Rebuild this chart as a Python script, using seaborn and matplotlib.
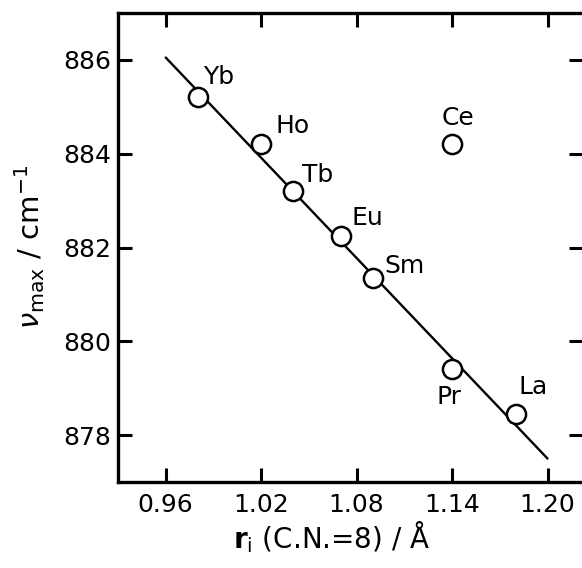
import matplotlib
matplotlib.use("Agg")
import matplotlib.pyplot as plt
import seaborn as sns
import pandas as pd

# data
elements = ["Yb", "Ho", "Tb", "Eu", "Sm", "Ce", "Pr", "La"]
radius = [0.98, 1.02, 1.04, 1.07, 1.09, 1.14, 1.14, 1.18]
nu_max = [885.2, 884.2, 883.2, 882.25, 881.35, 884.2, 879.4, 878.45]
fit_x = [0.96, 1.20]
fit_y = [886.05, 877.5]
xticks = [0.96, 1.02, 1.08, 1.14, 1.20]
xticklabels = ["0.96", "1.02", "1.08", "1.14", "1.20"]
yticks = [878, 880, 882, 884, 886]
yticklabels = ["878", "880", "882", "884", "886"]

# label offsets (pixels) and alignment
label_off = {"Yb": (6, 20, "left"), "Ho": (14, 18, "left"), "Tb": (9, 16, "left"),
             "Eu": (11, 18, "left"), "Sm": (12, 12, "left"), "Ce": (6, 26, "center"),
             "Pr": (-3, -28, "center"), "La": (3, 27, "left")}

sns.set_style("ticks")
plt.rcParams["font.family"] = ["DejaVu Sans"]
plt.rcParams["mathtext.fontset"] = "dejavusans"
plt.rcParams["text.color"] = "black"
plt.rcParams["axes.labelcolor"] = "black"

df = pd.DataFrame({"element": elements, "r": radius, "nu": nu_max})
fit = pd.DataFrame({"r": fit_x, "nu": fit_y})

fig = plt.figure(figsize=(5.82, 5.68), dpi=100)
ax = fig.add_axes([118/582, 1 - 482/568, (583 - 118)/582, (482 - 13)/568])

sns.lineplot(data=fit, x="r", y="nu", ax=ax, color="black", linewidth=1.7)
sns.scatterplot(data=df, x="r", y="nu", ax=ax, marker="o", s=190,
                facecolor="white", edgecolor="black", linewidth=1.8, zorder=3)

for e, x, y in zip(elements, radius, nu_max):
    dx, dy, ha = label_off[e]
    ax.annotate(e, (x, y), xytext=(dx, dy), textcoords="offset pixels",
                ha=ha, va="center", fontsize=18, color="black")

ax.set_xlim(0.930, 1.2223)
ax.set_ylim(877.0, 887.0)
ax.set_xticks(xticks)
ax.set_xticklabels(xticklabels)
ax.set_yticks(yticks)
ax.set_yticklabels(yticklabels)
ax.tick_params(direction="in", length=10, width=2.2, labelsize=18,
               top=True, right=True, colors="black")
ax.tick_params(axis="x", pad=8)
ax.tick_params(axis="y", pad=5)
for s in ["left", "bottom", "top"]:
    ax.spines[s].set_linewidth(2.4)
    ax.spines[s].set_color("black")
ax.spines["right"].set_visible(False)

ax.set_xlabel(r"$\mathbf{r}_{\mathrm{i}}$ (C.N.=8) / Å", fontsize=20)
ax.set_ylabel(r"$\nu_{\mathrm{max}}$ / cm$^{-1}$", fontsize=21)
ax.xaxis.set_label_coords((331 - 118) / 465, (482 - 519) / 469)
ax.yaxis.set_label_coords((47 - 118) / 465, (482 - 247) / 469)

fig.savefig("out.png", dpi=100)
